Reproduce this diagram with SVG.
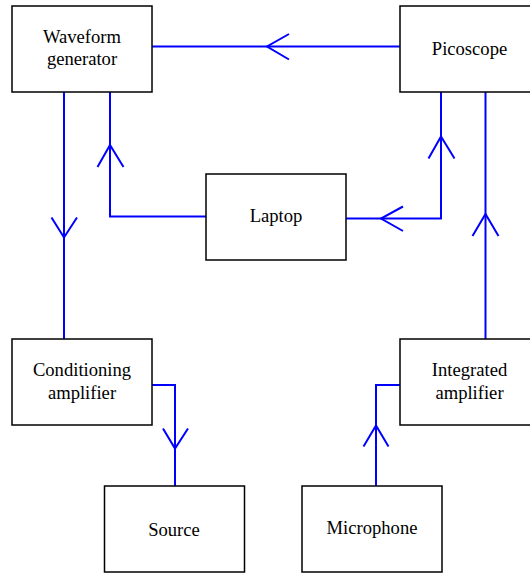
<svg xmlns="http://www.w3.org/2000/svg" width="530" height="575" viewBox="0 0 530 575">
<style>
.box{fill:#fff;stroke:#000;stroke-width:1.5}
.lbl{font-family:"Liberation Serif","Times New Roman",serif;font-size:18.6px;fill:#000;text-anchor:middle}
.wire{fill:none;stroke:#0000ff;stroke-width:2}
</style>
<rect width="530" height="575" fill="#fff"/>
<g id="connectors">
<path class="wire" d="M152,46.5 H400"/>
<path class="wire" d="M289,34 L267,46.5 L289,59.5"/>
<path class="wire" d="M64,92 V339"/>
<path class="wire" d="M51.5,217.5 L64,237.5 L77,217.5"/>
<path class="wire" d="M206,216.5 H110 V92"/>
<path class="wire" d="M97.5,167 L110,145 L123.5,167"/>
<path class="wire" d="M346,218.5 H441 V92"/>
<path class="wire" d="M403,206.5 L381,218.5 L403,231"/>
<path class="wire" d="M428.5,158.5 L441,136.5 L454.5,158.5"/>
<path class="wire" d="M485.5,339 V92"/>
<path class="wire" d="M472.5,236 L485.5,214 L498.5,236"/>
<path class="wire" d="M152,385 H175 V486"/>
<path class="wire" d="M163,428.5 L175,448.5 L188,428.5"/>
<path class="wire" d="M376,486 V385 H400"/>
<path class="wire" d="M363.5,446.5 L376,425.5 L388.5,446.5"/>
</g>
<g id="waveform-generator">
<rect class="box" x="12" y="6" width="140" height="86"/>
<text class="lbl" x="82" y="43">Waveform</text>
<text class="lbl" x="82" y="65">generator</text>
</g>
<g id="picoscope">
<rect class="box" x="400" y="6" width="140" height="86"/>
<text class="lbl" x="469.5" y="54.5">Picoscope</text>
</g>
<g id="laptop">
<rect class="box" x="206" y="174" width="140" height="86"/>
<text class="lbl" x="276" y="221.5">Laptop</text>
</g>
<g id="conditioning-amplifier">
<rect class="box" x="12" y="339" width="140" height="86"/>
<text class="lbl" x="82" y="376">Conditioning</text>
<text class="lbl" x="82" y="398.5">amplifier</text>
</g>
<g id="integrated-amplifier">
<rect class="box" x="400" y="339" width="140" height="86"/>
<text class="lbl" x="469.5" y="376">Integrated</text>
<text class="lbl" x="469.5" y="398.5">amplifier</text>
</g>
<g id="source">
<rect class="box" x="104.5" y="486" width="140" height="86"/>
<text class="lbl" x="174" y="535.5">Source</text>
</g>
<g id="microphone">
<rect class="box" x="302" y="486" width="140" height="86"/>
<text class="lbl" x="372" y="534">Microphone</text>
</g>
</svg>
